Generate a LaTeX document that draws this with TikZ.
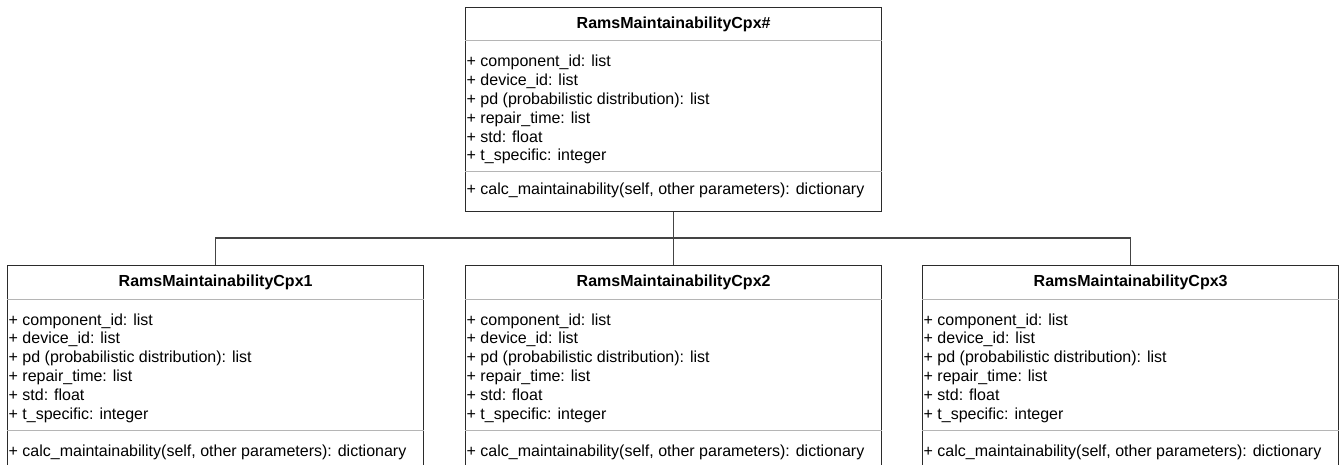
\documentclass[tikz,border=0pt]{standalone}
\usepackage{fontspec}
\setmainfont{Liberation Sans}
\definecolor{frameline}{HTML}{2B2B2B}
\definecolor{ruleline}{HTML}{B5B5B5}
\definecolor{wireline}{HTML}{444444}
\tikzset{
  classframe/.style={draw=frameline, line width=1.3pt, fill=white, inner sep=0pt,
    anchor=north west, minimum width=416pt},
  compartment/.style={draw=ruleline, line width=1pt},
  classtitle/.style={font=\fontsize{16}{19}\selectfont\bfseries, inner sep=0pt},
  member/.style={font=\fontsize{16}{19}\selectfont, inner sep=0pt, anchor=base west},
  wire/.style={draw=wireline, line width=1.3pt},
}
% #1 name, #2 left, #3 top, #4 height, #5 title, #6 baseline offset of the method line
\newcommand\drawclass[6]{%
  \node[classframe, minimum height=#4pt] (#1) at (#2pt,-#3pt) {};
  \draw[compartment] ([yshift=-34pt]#1.north west) -- ([yshift=-34pt]#1.north east);
  \draw[compartment] ([yshift=-165pt]#1.north west) -- ([yshift=-165pt]#1.north east);
  \node[classtitle] (#1-title) at ([yshift=-17pt]#1.north) {#5};
  \foreach \txt [count=\i from 0] in {%
      + component\_id: list,
      + device\_id: list,
      + pd (probabilistic distribution): list,
      + repair\_time: list,
      + std: float,
      + t\_specific: integer}{%
    \node[member] (#1-attr\i) at ([xshift=1.5pt,yshift={-60pt-\i*18.8pt}]#1.north west) {\txt};
  }
  \node[member] (#1-method) at ([xshift=1.5pt,yshift=-#6pt]#1.north west)
    {+ calc\_maintainability(self, other parameters): dictionary};
}
\begin{document}
\begin{tikzpicture}[x=1pt,y=1pt]
  \useasboundingbox (0,0) rectangle (1341,-465);
  \clip (0,0) rectangle (1341,-465);
  \fill[white] (0,0) rectangle (1341,-465);

  % connectors: base class to the three concrete classes
  \coordinate (bus) at (0,-238);

  \drawclass{base}{465}{7}{204}{RamsMaintainabilityCpx\#}{188}
  \drawclass{cpx1}{7}{265}{240}{RamsMaintainabilityCpx1}{191}
  \drawclass{cpx2}{465}{265}{240}{RamsMaintainabilityCpx2}{191}
  \drawclass{cpx3}{922}{265}{240}{RamsMaintainabilityCpx3}{191}

  \draw[wire] (base.south) -- (cpx2.north);
  \draw[wire] (cpx1.north) -- (cpx1.north |- bus) -- (cpx3.north |- bus) -- (cpx3.north);
\end{tikzpicture}
\end{document}
